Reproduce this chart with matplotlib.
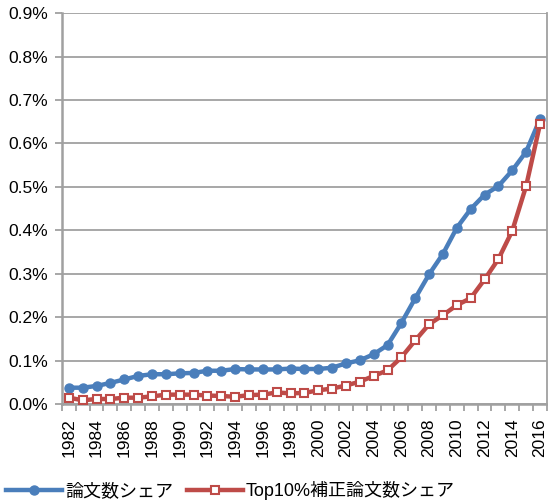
import matplotlib
matplotlib.use("Agg")
import matplotlib.pyplot as plt
from matplotlib.ticker import FixedLocator, FuncFormatter
import numpy as np

plt.rcParams['font.family'] = ['Liberation Sans', 'Noto Sans CJK JP', 'DejaVu Sans']

years = list(range(1982, 2017))
share = [0.038, 0.038, 0.042, 0.049, 0.057, 0.065, 0.069, 0.069, 0.071, 0.072,
         0.077, 0.077, 0.081, 0.080, 0.080, 0.080, 0.082, 0.081, 0.081, 0.084,
         0.094, 0.101, 0.115, 0.136, 0.187, 0.244, 0.299, 0.346, 0.406, 0.449,
         0.482, 0.502, 0.538, 0.581, 0.656]
top10 = [0.015, 0.009, 0.012, 0.012, 0.015, 0.015, 0.018, 0.022, 0.022, 0.022,
         0.020, 0.019, 0.017, 0.021, 0.022, 0.027, 0.025, 0.026, 0.032, 0.036,
         0.043, 0.052, 0.065, 0.078, 0.108, 0.147, 0.184, 0.205, 0.228, 0.244,
         0.287, 0.334, 0.399, 0.502, 0.644]
label_share = "論文数シェア"
label_top10 = "Top10%補正論文数シェア"
yticks = [0.0, 0.1, 0.2, 0.3, 0.4, 0.5, 0.6, 0.7, 0.8, 0.9]

blue = "#4a7ebb"
red = "#be4b48"
grid = "#a0a0a0"

fig = plt.figure(figsize=(5.48, 5.04), dpi=100)
ax = fig.add_axes([0.113, 0.198, 0.885, 0.776])

x = np.arange(len(years))
ax.plot(x, share, color=blue, lw=3.2, marker='o', ms=6.5, mfc=blue, mec=blue,
        label=label_share, zorder=3)
ax.plot(x, top10, color=red, lw=3.2, marker='s', ms=5.5, mfc='white', mec=red,
        mew=1.5, label=label_top10, zorder=4)

ax.set_xlim(-0.5, len(years) - 0.5)
ax.set_ylim(0, 0.9)
ax.set_yticks(yticks)
ax.yaxis.set_major_formatter(FuncFormatter(lambda v, p: f"{v:.1f}%"))
ax.yaxis.grid(True, color=grid, lw=1.3)
ax.set_axisbelow(True)

ax.xaxis.set_major_locator(FixedLocator(x))
ax.set_xticklabels([str(y) if y % 2 == 0 else "" for y in years], rotation=90)
ax.xaxis.set_minor_locator(FixedLocator(np.arange(len(years) + 1) - 0.5))
ax.tick_params(axis='x', which='major', length=0, pad=10, labelsize=12.5)
ax.tick_params(axis='x', which='minor', length=5, width=1.3, color=grid, direction='out')
ax.tick_params(axis='y', length=5, width=1.3, color=grid, labelsize=12.5, pad=5)

for s in ['left', 'bottom']:
    ax.spines[s].set_color(grid)
    ax.spines[s].set_linewidth(1.8)
ax.spines['right'].set_color(grid)
ax.spines['right'].set_linewidth(1.3)
ax.spines['top'].set_visible(False)

fig.legend(loc='lower left', bbox_to_anchor=(-0.005, -0.01), ncol=2, frameon=False,
           fontsize=13, handlelength=3.1, handletextpad=0.15, columnspacing=0.8,
           borderaxespad=0.1)

fig.savefig("out.png", dpi=100)
